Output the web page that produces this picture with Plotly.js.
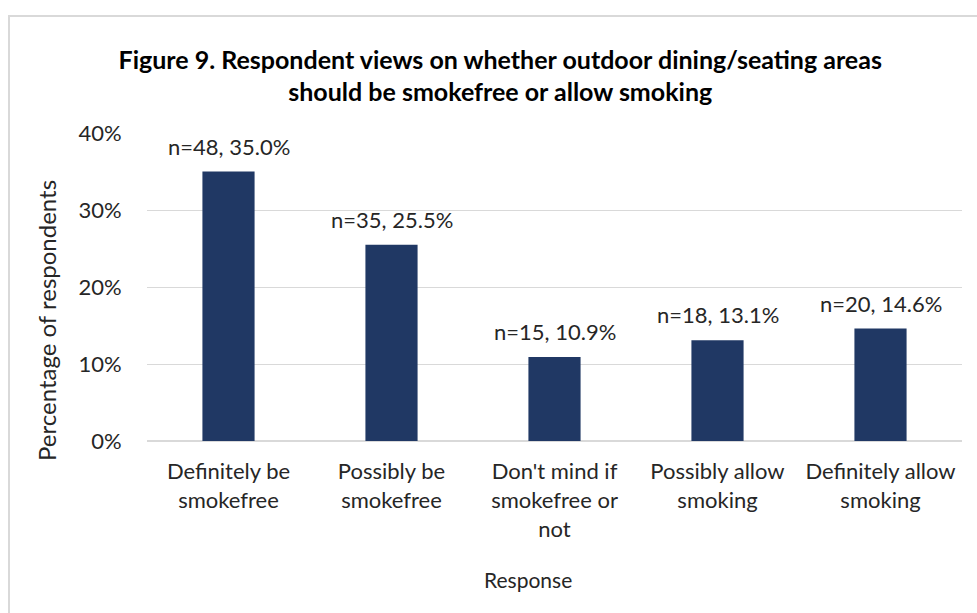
<!DOCTYPE html>
<html><head><meta charset="utf-8">
<script src="https://cdn.plot.ly/plotly-3.0.1.min.js"></script>
<style>
html,body{margin:0;padding:0;background:#fff;}
#wrap{position:relative;width:977px;height:613px;overflow:hidden;}
#frame{position:absolute;left:8px;top:15px;width:1000px;height:700px;border:2px solid #d9d9d9;box-sizing:border-box;pointer-events:none;}
#chart{position:absolute;left:0;top:0;width:977px;height:613px;}
</style></head>
<body><div id="wrap"><div id="frame"></div><div id="chart"></div></div>
<script>
const categories = ["Definitely be<br>smokefree", "Possibly be<br>smokefree", "Don't mind if<br>smokefree or<br>not", "Possibly allow<br>smoking", "Definitely allow<br>smoking"];
const counts = [48, 35, 15, 18, 20];
const percents = [35.0, 25.5, 10.9, 13.1, 14.6];
const yTickVals = [0, 10, 20, 30, 40];
const yTickText = ["0%", "10%", "20%", "30%", "40%"];
const labels = counts.map((n, i) => "n=" + n + ", " + percents[i].toFixed(1) + "%");

const font = "Lato, 'Open Sans', sans-serif";
const txt = '#262626';
const annotations = categories.map((c, i) => ({
  x: c, y: percents[i], xref: 'x', yref: 'y', text: labels[i], showarrow: false,
  yanchor: 'bottom', yshift: 10, font: {family: font, size: 22, color: txt}
}));
annotations.push({
  text: 'Percentage of respondents', xref: 'paper', yref: 'paper', x: -0.1227, y: 0.393,
  xanchor: 'center', yanchor: 'middle', textangle: -90, showarrow: false,
  font: {family: font, size: 24, color: txt}
});
annotations.push({
  text: 'Response', xref: 'paper', yref: 'paper', x: 0.468, y: -0.451,
  xanchor: 'center', yanchor: 'middle', showarrow: false,
  font: {family: font, size: 21, color: txt}
});
Plotly.newPlot('chart', [{
  type: 'bar', x: categories, y: percents,
  marker: {color: '#203864'}, width: 0.32, hoverinfo: 'none'
}], {
  width: 977, height: 613,
  margin: {l: 147, r: 15, t: 133, b: 172},
  paper_bgcolor: 'rgba(0,0,0,0)', plot_bgcolor: 'rgba(0,0,0,0)',
  title: {text: '<b>Figure 9. Respondent views on whether outdoor dining/seating areas<br>should be smokefree or allow smoking</b>',
    font: {family: font, size: 25, color: '#000'}, x: 0.512, xanchor: 'center', y: 0.888, yanchor: 'middle'},
  xaxis: {tickfont: {family: font, size: 22, color: txt}, showgrid: false, showline: false,
    ticks: 'outside', ticklen: 11, tickcolor: 'rgba(0,0,0,0)'},
  yaxis: {range: [0, 40], tickvals: yTickVals, ticktext: yTickText, gridcolor: '#d9d9d9', gridwidth: 1,
    zeroline: true, zerolinecolor: '#d9d9d9', zerolinewidth: 1.5, showline: false,
    ticks: 'outside', ticklen: 20, tickcolor: 'rgba(0,0,0,0)',
    tickfont: {family: font, size: 22, color: txt}},
  annotations: annotations,
  showlegend: false
}, {staticPlot: true});
</script></body></html>
